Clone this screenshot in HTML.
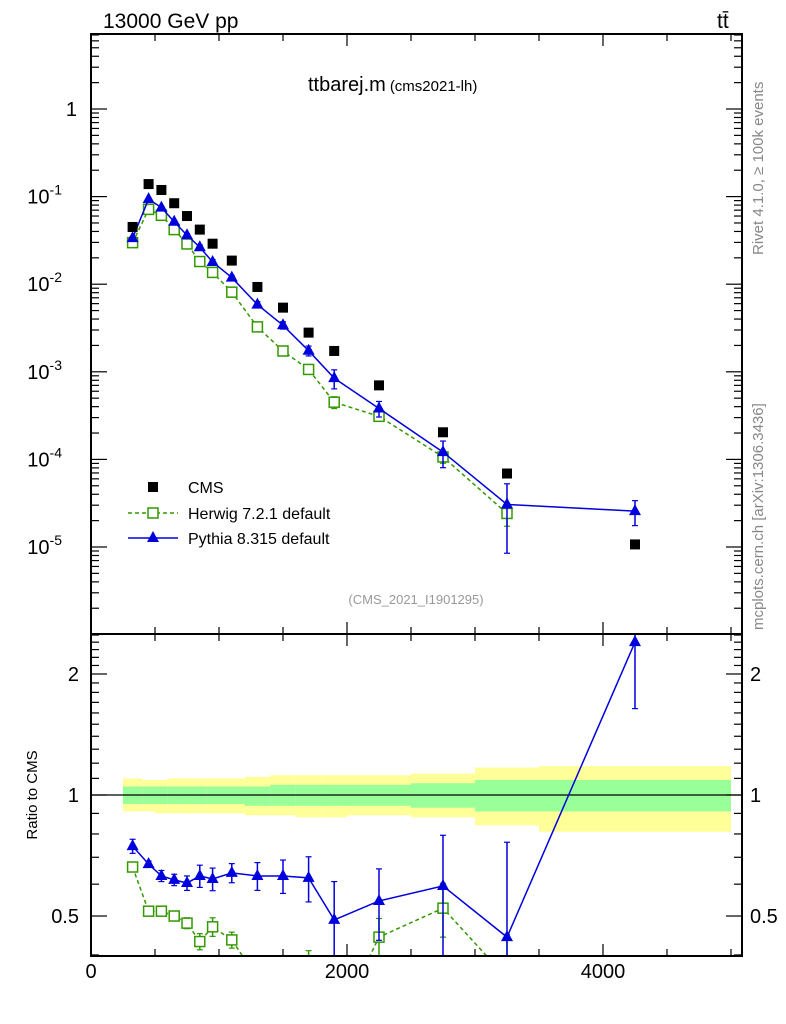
<!DOCTYPE html>
<html><head><meta charset="utf-8"><style>
html,body{margin:0;background:#fff;width:786px;height:1024px;overflow:hidden;position:relative;}
svg text{font-family:"Liberation Sans",sans-serif;}
svg{display:block;}
</style></head><body>
<svg id="c" width="786" height="1024" style="position:absolute;left:0;top:0" xmlns="http://www.w3.org/2000/svg"></svg>
<script>
const xCenters=[325,450,550,650,750,850,950,1100,1300,1500,1700,1900,2250,2750,3250,4250];
const binEdges=[250,400,500,600,700,800,900,1000,1200,1400,1600,1800,2000,2500,3000,3500,5000];
const cmsVals=[0.045,0.139,0.119,0.084,0.060,0.042,0.029,0.0186,0.0093,0.0054,0.0028,0.00173,0.00070,0.000204,6.9e-5,1.07e-5];
const bandInnerUp=[1.05,1.05,1.05,1.05,1.05,1.05,1.05,1.05,1.05,1.06,1.06,1.06,1.06,1.07,1.09,1.09];
const bandInnerDn=[0.95,0.95,0.95,0.95,0.95,0.95,0.95,0.95,0.94,0.94,0.94,0.94,0.94,0.93,0.91,0.91];
const bandOuterUp=[1.10,1.09,1.09,1.10,1.10,1.10,1.10,1.10,1.11,1.12,1.12,1.12,1.12,1.13,1.17,1.18];
const bandOuterDn=[0.91,0.91,0.90,0.90,0.90,0.90,0.90,0.90,0.89,0.89,0.88,0.88,0.89,0.88,0.84,0.81];
const pyRatio=[0.746,0.673,0.629,0.615,0.604,0.629,0.618,0.640,0.629,0.629,0.622,0.489,0.545,0.594,0.443,2.40];
const pyErr=[0.03,0.012,0.02,0.02,0.025,0.04,0.04,0.035,0.05,0.06,0.08,0.12,0.11,0.2,0.32,0.76];
const hwRatio=[0.662,0.514,0.514,0.50,0.48,0.432,0.47,0.436,0.35,0.32,0.38,0.26,0.443,0.523,0.35,null];
const hwErr=[0.01,0.01,0.01,0.012,0.015,0.02,0.025,0.02,0.03,0.03,0.03,0.04,0.05,0.08,0.1,0];
const xTicks=[0,2000,4000];
const ratioTicks=[0.5,1,2];

const S=document.getElementById('c');const NS='http://www.w3.org/2000/svg';
function el(t,a,p){const e=document.createElementNS(NS,t);for(const k in a)e.setAttribute(k,a[k]);(p||S).appendChild(e);return e;}
const L=91,R=742,T=34,M=634,B=956;
const X=v=>L+v*(R-L)/5086;
const Y=v=>109-Math.log10(v)*87.6;
const YR=v=>795-Math.log10(v)*402;

const gB=el('g',{});
for(let i=0;i<xCenters.length;i++){
 const x0=X(binEdges[i]),x1=X(binEdges[i+1]);
 el('rect',{x:x0,y:YR(bandOuterUp[i]),width:x1-x0,height:YR(bandOuterDn[i])-YR(bandOuterUp[i]),fill:'#ffff99'},gB);
}
for(let i=0;i<xCenters.length;i++){
 const x0=X(binEdges[i]),x1=X(binEdges[i+1]);
 el('rect',{x:x0,y:YR(bandInnerUp[i]),width:x1-x0,height:YR(bandInnerDn[i])-YR(bandInnerUp[i]),fill:'#99ff99'},gB);
}
el('line',{x1:L,x2:R,y1:YR(1),y2:YR(1),stroke:'#000','stroke-width':1.2});

const defs=el('defs',{});
const c1=el('clipPath',{id:'cm'},defs);el('rect',{x:L,y:T,width:R-L,height:M-T},c1);
const c2=el('clipPath',{id:'cr'},defs);el('rect',{x:L,y:M,width:R-L,height:B-M},c2);

function series(vals,errs,color,dash,marker,name,ratio){
 const g=el('g',{'clip-path':ratio?'url(#cr)':'url(#cm)'});
 
 const pts=[];
 for(let i=0;i<xCenters.length;i++){
  if(vals[i]==null)continue;
  const v=ratio?vals[i]:vals[i]*cmsVals[i];
  const f=ratio?YR:Y;
  const x=X(xCenters[i]),y=f(v);
  pts.push([x,y]);
  const hi=ratio?vals[i]+errs[i]:v*(1+errs[i]/vals[i]);
  const lo=ratio?vals[i]-errs[i]:v*(1-errs[i]/vals[i]);
  if(errs[i]>0){
   el('line',{x1:x,x2:x,y1:f(hi),y2:f(Math.max(lo,1e-9)),stroke:color,'stroke-width':1.5},g);
   el('line',{x1:x-3,x2:x+3,y1:f(hi),y2:f(hi),stroke:color,'stroke-width':1.2},g);
   el('line',{x1:x-3,x2:x+3,y1:f(Math.max(lo,1e-9)),y2:f(Math.max(lo,1e-9)),stroke:color,'stroke-width':1.2},g);
  }
 }
 el('polyline',{points:pts.map(p=>p.join(',')).join(' '),fill:'none',stroke:color,'stroke-width':1.5,'stroke-dasharray':dash},g);
 pts.forEach(p=>{
  if(marker==='tri')el('polygon',{points:`${p[0]},${p[1]-7} ${p[0]-6},${p[1]+4} ${p[0]+6},${p[1]+4}`,fill:color},g);
  else el('rect',{x:p[0]-5,y:p[1]-5,width:10,height:10,fill:'#fff',stroke:color,'stroke-width':1.5},g);
 });
}
series(hwRatio,hwErr,'#339900','4,3','sq','herwig-series',false);
series(pyRatio,pyErr,'#0000dd','','tri','pythia-series',false);
series(hwRatio,hwErr,'#339900','4,3','sq','herwig-ratio-series',true);
series(pyRatio,pyErr,'#0000dd','','tri','pythia-ratio-series',true);
const gC=el('g',{});
for(let i=0;i<xCenters.length;i++){const x=X(xCenters[i]),y=Y(cmsVals[i]);el('rect',{x:x-5,y:y-5,width:10,height:10,fill:'#000'},gC);}

el('rect',{x:L,y:T,width:R-L,height:M-T,fill:'none',stroke:'#000','stroke-width':2});
el('rect',{x:L,y:M,width:R-L,height:B-M,fill:'none',stroke:'#000','stroke-width':2});
for(let v=0;v<=5000;v+=500){const x=X(v),len=v%2000===0?12:7;
 [[T,1],[M,-1],[M,1],[B,-1]].forEach(([y,d])=>el('line',{x1:x,x2:x,y1:y,y2:y+d*len,stroke:'#000','stroke-width':1.2}));}
xTicks.forEach(v=>{const t=el('text',{x:X(v),y:B+22,'font-size':20,'text-anchor':'middle'});t.textContent=v;});
for(let d=-6;d<=0;d++){for(let k=1;k<10;k++){const v=k*Math.pow(10,d);const y=Y(v);if(y<T||y>M)continue;const len=k===1?16:8;
 el('line',{x1:L,x2:L+len,y1:y,y2:y,stroke:'#000','stroke-width':1.2});el('line',{x1:R,x2:R-len,y1:y,y2:y,stroke:'#000','stroke-width':1.2});}}
for(let d=-5;d<=0;d++){const y=Y(Math.pow(10,d));
 const t=el('text',{x:d===0?77:62,y:y+7,'font-size':20,'text-anchor':'end'});
 
 if(d===0)t.textContent='1';else{t.textContent='10';const s=el('tspan',{dy:-9,'font-size':14},t);s.textContent=d;}
}
[0.4,0.5,0.6,0.7,0.8,0.9,1,1.1,1.2,1.3,1.4,1.5,1.6,1.7,1.8,1.9,2,2.1,2.2,2.3,2.4,2.5].forEach(v=>{const y=YR(v);if(y<M||y>B)return;const len=(v===0.5||v===1||v===2)?16:8;
 el('line',{x1:L,x2:L+len,y1:y,y2:y,stroke:'#000','stroke-width':1.2});el('line',{x1:R,x2:R-len,y1:y,y2:y,stroke:'#000','stroke-width':1.2});});
ratioTicks.forEach(v=>{const y=YR(v)+7;
 const a=el('text',{x:79,y:y,'font-size':20,'text-anchor':'end'});a.textContent=v;
 const b=el('text',{x:750,y:y,'font-size':20}); b.textContent=v;});
</script>
<svg width="786" height="1024" style="position:absolute;left:0;top:0" xmlns="http://www.w3.org/2000/svg">
<text x="103" y="28" font-size="21" font-family="Liberation Sans">13000 GeV pp</text>
<text x="717" y="28" font-size="21" font-family="Liberation Sans">tt̄</text>
<text x="308" y="91" font-size="20" font-family="Liberation Sans">ttbarej.m<tspan font-size="15" dx="4">(cms2021-lh)</tspan></text>
<text x="416" y="604" font-size="13" fill="#999" text-anchor="middle" font-family="Liberation Sans">(CMS_2021_I1901295)</text>
<text transform="translate(763,255) rotate(-90)" font-size="15" fill="#888" font-family="Liberation Sans">Rivet 4.1.0, ≥ 100k events</text>
<text transform="translate(763,630) rotate(-90)" font-size="15" fill="#888" font-family="Liberation Sans">mcplots.cern.ch [arXiv:1306.3436]</text>
<text transform="translate(37,795) rotate(-90)" font-size="15" text-anchor="middle" font-family="Liberation Sans">Ratio to CMS</text>
<g font-family="Liberation Sans" font-size="16">
<rect x="148" y="482" width="10" height="10" fill="#000"/>
<text x="188" y="493">CMS</text>
<line x1="128" x2="178" y1="513" y2="513" stroke="#339900" stroke-width="1.5" stroke-dasharray="4,3"/>
<rect x="148" y="508" width="10" height="10" fill="#fff" stroke="#339900" stroke-width="1.5"/>
<text x="188" y="519">Herwig 7.2.1 default</text>
<line x1="128" x2="178" y1="538" y2="538" stroke="#0000dd" stroke-width="1.5"/>
<polygon points="153,531 147,542 159,542" fill="#0000dd"/>
<text x="188" y="544">Pythia 8.315 default</text>
</g>
</svg>
</body></html>
